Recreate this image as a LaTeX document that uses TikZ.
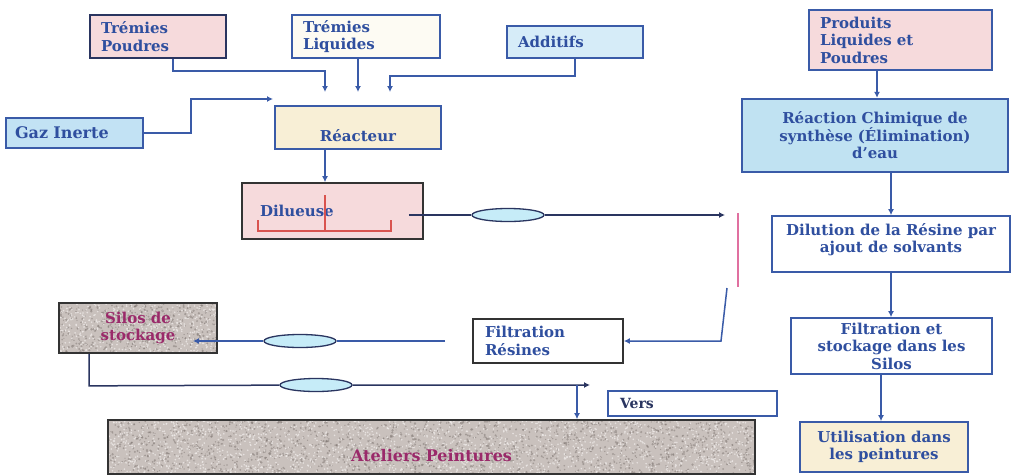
\documentclass[tikz,border=0pt]{standalone}
\usepackage{fontspec}
\setmainfont{DejaVu Serif}
\usetikzlibrary{arrows.meta,shapes.geometric,calc}
\definecolor{txtblue}{HTML}{2F4F9F}
\definecolor{bordblue}{HTML}{3A5BA8}
\definecolor{navy}{HTML}{2A3560}
\definecolor{darkb}{HTML}{333333}
\definecolor{pinkfill}{HTML}{F6DADC}
\definecolor{creamfill}{HTML}{F8EFD6}
\definecolor{paleyel}{HTML}{FDFBF3}
\definecolor{lblue}{HTML}{D6ECF8}
\definecolor{gazblue}{HTML}{C2E2F4}
\definecolor{rcblue}{HTML}{C0E2F2}
\definecolor{pumpfill}{HTML}{C6ECF8}
\definecolor{granbg}{HTML}{C9C1BD}
\definecolor{grandk}{HTML}{857C78}
\definecolor{granlt}{HTML}{EEEAE8}
\definecolor{magtxt}{HTML}{9A2A6A}
\definecolor{redbr}{HTML}{D9534F}
\definecolor{pinkline}{HTML}{E070A0}
\newcommand\granitefill[5]{%
  \begin{scope}
    \clip (#1,#2) rectangle (#3,#4);
    \fill[granbg] (#1,#2) rectangle (#3,#4);
    \foreach \i in {1,...,#5}{%
      \pgfmathsetmacro\gx{#1+rnd*(#3-#1)}%
      \pgfmathsetmacro\gy{#2+rnd*(#4-#2)}%
      \pgfmathsetmacro\gr{0.5+0.8*rnd}%
      \fill[grandk,opacity=0.55] (\gx,\gy) circle (\gr pt);
      \pgfmathsetmacro\hx{#1+rnd*(#3-#1)}%
      \pgfmathsetmacro\hy{#2+rnd*(#4-#2)}%
      \fill[granlt,opacity=0.8] (\hx,\hy) circle (0.9pt);
    }
  \end{scope}}
\tikzset{
  box/.style={draw=bordblue, line width=1.7pt, text=txtblue,
    font=\bfseries\fontsize{15}{17.5}\selectfont, inner xsep=11pt, inner ysep=2pt},
  boxtext/.style={text=txtblue, font=\bfseries\fontsize{15}{17.5}\selectfont, align=center, inner sep=0pt},
  conn/.style={draw=bordblue, line width=1.5pt, -{Latex[length=6pt,width=6pt]}},
  pump/.style={ellipse, draw=navy, line width=1.3pt, fill=pumpfill, minimum width=72pt, minimum height=13pt, inner sep=0pt}
}
\begin{document}
\begin{tikzpicture}[x=1pt,y=-1pt]
\fill[white] (0,0) rectangle (1011,474);
\useasboundingbox (0,0) rectangle (1011,474);
\pgfmathsetseed{7}
\granitefill{59}{303}{217}{353}{500}
\granitefill{108}{420}{755}{474}{1800}

% left part
\node[box, fill=pinkfill, draw=navy, text width=114pt, minimum height=43pt, align=left] (tp) at (158,36.5) {Trémies\\Poudres};
\node[box, fill=paleyel, text width=126pt, minimum height=43pt, align=left] (tl) at (366,36.5) {Trémies\\Liquides};
\node[box, fill=lblue, text width=114pt, minimum height=32pt, align=left] (add) at (575,42) {Additifs};
\node[box, fill=creamfill, text width=144pt, minimum height=43pt, align=center, text height=29pt] (reac) at (358,127.5) {Réacteur};
\node[box, fill=gazblue, line width=2.2pt, text width=119pt, minimum height=30pt, align=left, inner xsep=9pt, font=\bfseries\fontsize{16}{18}\selectfont] (gaz) at (74.5,133) {Gaz Inerte};
\node[box, fill=pinkfill, draw=darkb, inner xsep=18pt, text width=145pt, minimum height=56pt, align=left] (dil) at (332.5,211) {Dilueuse};
\draw[redbr, line width=1.3pt] (258,220) -- (258,231) -- (391,231) -- (391,220);
\draw[redbr, line width=1.3pt] (325,195) -- (325,231);
\node[box, fill=white, draw=darkb, text width=126pt, minimum height=44pt, inner xsep=12pt, align=left] (fr) at (548,341) {Filtration\\Résines};
\node[box, draw=darkb, text=magtxt, text width=136pt, minimum height=50pt, align=center] (silos) at (138,328) {Silos de\\stockage};
\node[box, fill=white, text=navy, text width=145pt, minimum height=25pt, inner xsep=12pt, inner ysep=0pt, align=left, font=\bfseries\fontsize{14}{15}\selectfont] (vers) at (692.5,403.5) {Vers};
\node[box, draw=darkb, text=magtxt, text width=625pt, minimum height=54pt, align=center, text height=29pt, font=\bfseries\fontsize{16}{18}\selectfont] (atel) at (431.5,447) {Ateliers Peintures};

% right part
\node[box, fill=pinkfill, text width=161pt, minimum height=60pt, align=left] (prod) at (900.5,40) {Produits\\Liquides et\\Poudres};
\node[box, fill=rcblue, line width=2.4pt, text width=244pt, minimum height=73pt, align=center] (rc) at (875,135.5) {Réaction Chimique de\\synthèse (Élimination)\\d'eau};
\node[box, fill=white, text width=216pt, minimum height=56pt, align=center] (dilu) at (891,244) {};
\node[boxtext, anchor=north] at ([yshift=-8pt]dilu.north) {Dilution de la Résine par\\ajout de solvants};
\node[box, fill=white, text width=179pt, minimum height=56pt, align=center] (fs) at (891.5,346) {Filtration et\\stockage dans les\\Silos};
\node[box, fill=creamfill, text width=146pt, minimum height=50pt, align=center] (util) at (884,447) {Utilisation dans\\les peintures};

% pumps
\node[pump] (pump1) at (508,215) {};
\node[pump] (pump2) at (300,341) {};
\node[pump] (pump3) at (316,385) {};

% free ends
\coordinate (a1) at (325,92);
\coordinate (a2) at (358,92);
\coordinate (a3) at (390,92);
\coordinate (a4) at (273,99);
\coordinate (a6) at (725,215);
\coordinate (a8) at (727,288);
\coordinate (a9) at (445,341);
\coordinate (a9e) at (193,341);
\coordinate (a10) at (590,385);
\coordinate (b11) at (577,385);

% connectors left
\draw[conn] ([xshift=15pt]tp.south) -- ++(0,12) -| (a1);
\draw[conn] ([xshift=-8pt]tl.south) -- (a2);
\draw[conn] (add.south) -- ++(0,17) -| (a3);
\draw[conn] (gaz.east) -- ++(47,0) |- (a4);
\draw[conn] ([xshift=-33pt]reac.south) -- ([xshift=-7.5pt]dil.north);
\draw[conn, draw=navy] ([xshift=-15pt,yshift=-4pt]dil.east) -- (pump1) -- (a6);
\draw[pinkline, line width=1.5pt] (738,213) -- (738,287);
\draw[conn] (a8) -- ++(-6,53) -- (fr.east);
\draw[conn] (a9) -- (pump2) -- (a9e);
\draw[conn, draw=navy] ([xshift=-49pt]silos.south) -- ++(0,32) -- (pump3) -- (a10);
\draw[conn] (b11) -- (b11 |- atel.north);

% connectors right
\draw[conn] ([xshift=-23.5pt]prod.south) -- ([xshift=2pt]rc.north);
\draw[conn] ([xshift=16pt]rc.south) -- (dilu.north);
\draw[conn] (dilu.south) -- ([xshift=-0.5pt]fs.north);
\draw[conn] ([xshift=-10.5pt]fs.south) -- ([xshift=-3pt]util.north);
\end{tikzpicture}
\end{document}
